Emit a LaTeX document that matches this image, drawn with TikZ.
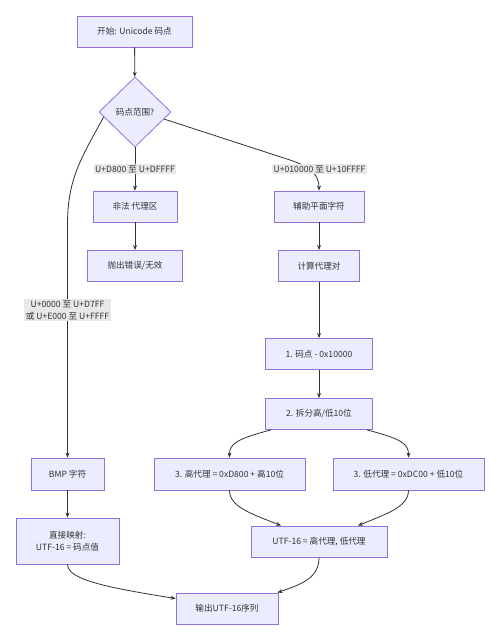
\documentclass[tikz,border=0pt]{standalone}
\usepackage{fontspec}
\setmainfont{Noto Sans CJK SC}
\usetikzlibrary{shapes.geometric,arrows.meta,calc}
\definecolor{boxfill}{HTML}{ECECFF}
\definecolor{boxline}{HTML}{9370DB}
\definecolor{edgecol}{HTML}{333333}
\definecolor{lblbg}{HTML}{E8E8E8}
\definecolor{txt}{HTML}{333333}
\begin{document}
\begin{tikzpicture}[x=1pt,y=-1pt,
  every node/.style={font=\fontsize{8.6}{12}\selectfont, text=txt},
  proc/.style={rectangle, draw=boxline, fill=boxfill, line width=0.8pt, inner sep=0pt, minimum height=31pt, align=center},
  decide/.style={diamond, draw=boxline, fill=boxfill, line width=0.8pt, inner sep=0pt, minimum width=72pt, minimum height=70pt},
  lbl/.style={fill=lblbg, inner sep=1.5pt, align=center},
  conn/.style={draw=edgecol, line width=0.8pt, -{Stealth[length=5pt,width=4pt]}}
]
\useasboundingbox (0,0) rectangle (500,640);
\fill[white] (0,0) rectangle (500,640);

\node[proc, minimum width=115pt] (start) at (134.5,31.5) {开始: Unicode 码点};
\node[decide] (rng) at (135,112) {码点范围?};
\node[proc, minimum width=84pt] (sur) at (135,206.5) {非法 代理区};
\node[proc, minimum width=95pt] (err) at (135,266) {抛出错误/无效};
\node[proc, minimum width=90pt] (supp) at (319,206.5) {辅助平面字符};
\node[proc, minimum width=81pt] (calc) at (319,266) {计算代理对};
\node[proc, minimum width=107pt] (s1) at (319,354) {1. 码点 - 0x10000};
\node[proc, minimum width=107pt] (s2) at (319,414) {2. 拆分高/低10位};
\node[proc, minimum width=73pt, minimum height=32pt] (bmp) at (67.5,474) {BMP 字符};
\node[proc, minimum width=151pt, minimum height=32pt] (hi) at (229.5,474) {3. 高代理 = 0xD800 + 高10位};
\node[proc, minimum width=151pt, minimum height=32pt] (lo) at (408.5,474) {3. 低代理 = 0xDC00 + 低10位};
\node[proc, minimum width=103pt, minimum height=46pt] (map) at (67.5,541) {直接映射:\\UTF-16 = 码点值};
\node[proc, minimum width=136pt] (utf) at (319,541.5) {UTF-16 = 高代理, 低代理};
\node[proc, minimum width=102pt] (out) at (227,608.5) {输出UTF-16序列};

\draw[conn] (start) -- (rng);
\draw[conn] (rng.south) -- (sur.north);
\draw[conn] (sur) -- (err);
\draw[conn] ($(rng.south west)!0.72!(rng.west)$) .. controls (80,160) and (67.5,180) .. (67.5,225) -- (bmp.north);
\draw[conn] ($(rng.south east)!0.6!(rng.east)$) -- (290,160) .. controls (312,167) and (319,176) .. (supp.north);
\draw[conn] (supp) -- (calc);
\draw[conn] (calc) -- (s1);
\draw[conn] (s1) -- (s2);
\draw[conn] ($(s2.south west)+(6,0)$) .. controls (236,439) and (229.5,444) .. (hi.north);
\draw[conn] ($(s2.south east)+(-6,0)$) .. controls (402,439) and (408.5,444) .. (lo.north);
\draw[conn] (bmp) -- (map);
\draw[conn] (hi.south) .. controls (229.5,507) and (252,514) .. ($(utf.north)+(-38,0)$);
\draw[conn] (lo.south) .. controls (408.5,507) and (386,514) .. ($(utf.north)+(39,0)$);
\draw[conn] (map.south) .. controls (67.5,580) and (110,588) .. ($(out.west)+(0,-10)$);
\draw[conn] (utf.south) .. controls (319,578) and (302,584) .. ($(out.north east)+(-1,0)$);

\node[lbl] (l1) at (135,169) {U+D800 至 U+DFFFF};
\node[lbl] (l2) at (319.5,169) {U+010000 至 U+10FFFF};
\node[lbl] (l3) at (67.5,310) {U+0000 至 U+D7FF\\或 U+E000 至 U+FFFF};
\end{tikzpicture}
\end{document}
